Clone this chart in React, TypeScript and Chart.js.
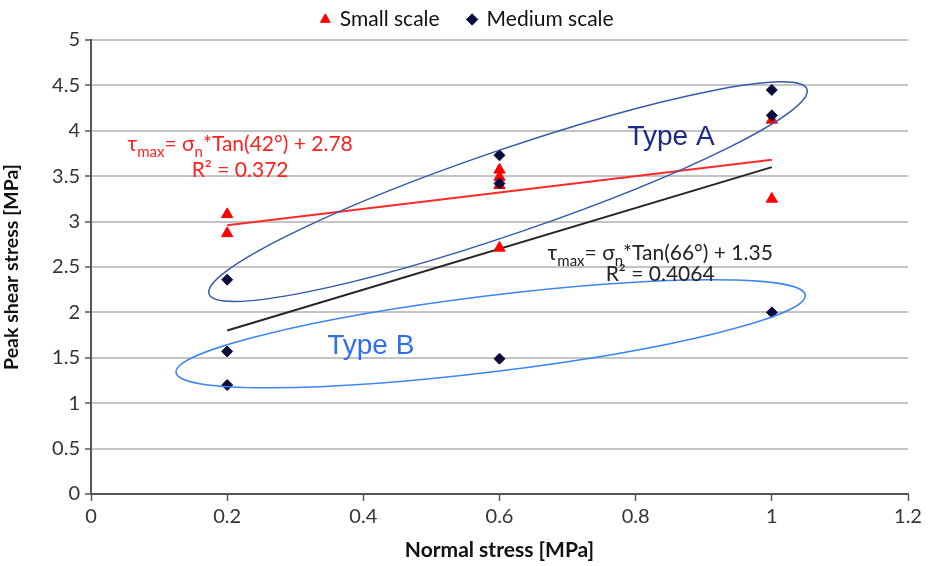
import React, { useEffect, useRef } from "react";
import { Chart, registerables } from "chart.js";

Chart.register(...registerables);

// ---- data ----
const smallScaleX = [0.2, 0.2, 0.6, 0.6, 0.6, 0.6, 1.0, 1.0];
const smallScaleY = [3.08, 2.87, 3.57, 3.49, 3.40, 2.71, 4.12, 3.25];
const mediumScaleX = [0.2, 0.2, 0.2, 0.6, 0.6, 0.6, 1.0, 1.0, 1.0];
const mediumScaleY = [2.36, 1.57, 1.20, 3.73, 3.42, 1.49, 4.45, 4.17, 2.00];
const trendX = [0.2, 1.0];
const smallTrendY = [2.96, 3.68];
const mediumTrendY = [1.8, 3.6];
const xTicks = [0, 0.2, 0.4, 0.6, 0.8, 1, 1.2];
const yTicks = [0, 0.5, 1, 1.5, 2, 2.5, 3, 3.5, 4, 4.5, 5];

const FONT = "Lato, 'DejaVu Sans', sans-serif";

type Part = { t: string; sub?: boolean };

function drawParts(ctx: CanvasRenderingContext2D, parts: Part[], cx: number, base: number, size: number, color: string) {
  const big = `${size}px ${FONT}`;
  const small = `${Math.round(size * 0.72)}px ${FONT}`;
  let w = 0;
  for (const p of parts) {
    ctx.font = p.sub ? small : big;
    w += ctx.measureText(p.t).width;
  }
  let x = cx - w / 2;
  ctx.fillStyle = color;
  ctx.textAlign = "left";
  ctx.textBaseline = "alphabetic";
  for (const p of parts) {
    ctx.font = p.sub ? small : big;
    ctx.fillText(p.t, x, p.sub ? base + size * 0.28 : base);
    x += ctx.measureText(p.t).width;
  }
}

const ellipses = [
  { cx: 0.6125, cy: 3.33, rx: 316, ry: 42, rot: -18.9, color: "#3558a8" },
  { cx: 0.587, cy: 1.764, rx: 317, ry: 38, rot: -7.0, color: "#3b86f0" },
];

const labels = [
  { x: 0.852, y: 3.93, text: "Type A", color: "#1b2a86" },
  { x: 0.411, y: 1.63, text: "Type B", color: "#2f6fec" },
];

const equations = [
  {
    x: 0.219, y1: 3.78, y2: 3.49, color: "#ff2020",
    line1: [{ t: "τ" }, { t: "max", sub: true }, { t: "= σ" }, { t: "n", sub: true }, { t: "*Tan(42°) + 2.78" }] as Part[],
    line2: [{ t: "R² = 0.372" }] as Part[],
  },
  {
    x: 0.836, y1: 2.58, y2: 2.35, color: "#222222",
    line1: [{ t: "τ" }, { t: "max", sub: true }, { t: "= σ" }, { t: "n", sub: true }, { t: "*Tan(66°) + 1.35" }] as Part[],
    line2: [{ t: "R² = 0.4064" }] as Part[],
  },
];

const annotationPlugin = {
  id: "annotations",
  afterDatasetsDraw(chart: any) {
    const ctx: CanvasRenderingContext2D = chart.ctx;
    const xs = chart.scales.x;
    const ys = chart.scales.y;
    ctx.save();
    for (const e of ellipses) {
      ctx.beginPath();
      ctx.ellipse(xs.getPixelForValue(e.cx), ys.getPixelForValue(e.cy), e.rx, e.ry, (e.rot * Math.PI) / 180, 0, Math.PI * 2);
      ctx.strokeStyle = e.color;
      ctx.lineWidth = 1.5;
      ctx.stroke();
    }
    for (const l of labels) {
      ctx.font = `28px 'Liberation Sans', Arial, sans-serif`;
      ctx.fillStyle = l.color;
      ctx.textAlign = "center";
      ctx.textBaseline = "middle";
      ctx.fillText(l.text, xs.getPixelForValue(l.x), ys.getPixelForValue(l.y));
    }
    for (const q of equations) {
      const px = xs.getPixelForValue(q.x);
      drawParts(ctx, q.line1, px, ys.getPixelForValue(q.y1), 21, q.color);
      drawParts(ctx, q.line2, px, ys.getPixelForValue(q.y2), 21, q.color);
    }
    ctx.restore();
  },
};

const fmt = (v: any) => String(Math.round(Number(v) * 10) / 10);

export default function App() {
  const ref = useRef<HTMLCanvasElement>(null);
  useEffect(() => {
    if (!ref.current) return;
    const chart = new Chart(ref.current, {
      type: "scatter",
      data: {
        datasets: [
          {
            label: "Small scale",
            data: smallScaleX.map((x, i) => ({ x, y: smallScaleY[i] })),
            pointStyle: "triangle",
            pointRadius: 6.5,
            backgroundColor: "#ff0000",
            borderColor: "#ff0000",
            borderWidth: 1,
            order: 1,
          },
          {
            label: "Medium scale",
            data: mediumScaleX.map((x, i) => ({ x, y: mediumScaleY[i] })),
            pointStyle: "rectRot",
            pointRadius: 5.5,
            backgroundColor: "#0b0b3e",
            borderColor: "#0b0b3e",
            borderWidth: 1,
            order: 0,
          },
          {
            label: "trend small",
            data: trendX.map((x, i) => ({ x, y: smallTrendY[i] })),
            showLine: true,
            pointRadius: 0,
            borderColor: "#ff2a2a",
            borderWidth: 2,
            order: 3,
          } as any,
          {
            label: "trend medium",
            data: trendX.map((x, i) => ({ x, y: mediumTrendY[i] })),
            showLine: true,
            pointRadius: 0,
            borderColor: "#262626",
            borderWidth: 2,
            order: 2,
          } as any,
        ],
      },
      options: {
        responsive: false,
        animation: false,
        layout: { padding: { left: 0, right: 0, top: 2, bottom: 0 } },
        plugins: {
          tooltip: { enabled: false },
          legend: {
            position: "top",
            labels: {
              usePointStyle: true,
              boxWidth: 8,
              boxHeight: 8,
              padding: 7,
              color: "#111",
              font: { family: FONT, size: 21 },
              filter: (item: any) => item.datasetIndex < 2,
              sort: (a: any, b: any) => a.datasetIndex - b.datasetIndex,
              generateLabels: (chart: any) => {
                const items = Chart.defaults.plugins.legend.labels.generateLabels(chart);
                return items.map((it: any) => (it.datasetIndex === 0 ? { ...it, text: it.text + "    " } : it));
              },
            },
          },
        },
        scales: {
          x: {
            type: "linear",
            min: 0,
            max: 1.2,
            afterBuildTicks: (s: any) => { s.ticks = xTicks.map((v) => ({ value: v })); },
            afterFit: (s: any) => { s.height = 72; s.paddingRight = 27; },
            ticks: { color: "#333", font: { family: FONT, size: 20 }, padding: 4, callback: fmt },
            grid: { drawOnChartArea: false, drawTicks: true, tickLength: 7, tickColor: "#555", tickWidth: 1.5 },
            border: { color: "#555", width: 2 },
            title: { display: true, text: "Normal stress [MPa]", color: "#111", font: { family: FONT, size: 21, weight: "bold" }, padding: { top: 0, bottom: 3 } },
          },
          y: {
            type: "linear",
            min: 0,
            max: 5,
            afterBuildTicks: (s: any) => { s.ticks = yTicks.map((v) => ({ value: v })); },
            afterFit: (s: any) => { s.width = 91; },
            ticks: { color: "#333", font: { family: FONT, size: 20 }, padding: 5, callback: fmt },
            grid: { color: "#c4c4c4", lineWidth: 2, tickLength: 6, tickColor: "#555", tickWidth: 1.5 },
            border: { color: "#555", width: 2 },
            title: { display: true, text: "Peak shear stress [MPa]", color: "#111", font: { family: FONT, size: 19.5, weight: "bold" }, padding: { top: 0, bottom: 4 } },
          },
        },
      },
      plugins: [annotationPlugin],
    });
    return () => chart.destroy();
  }, []);
  return (
    <div style={{ position: "fixed", left: 0, top: 0, width: 935, height: 566, background: "#fff" }}>
      <canvas ref={ref} width={935} height={566} />
    </div>
  );
}
